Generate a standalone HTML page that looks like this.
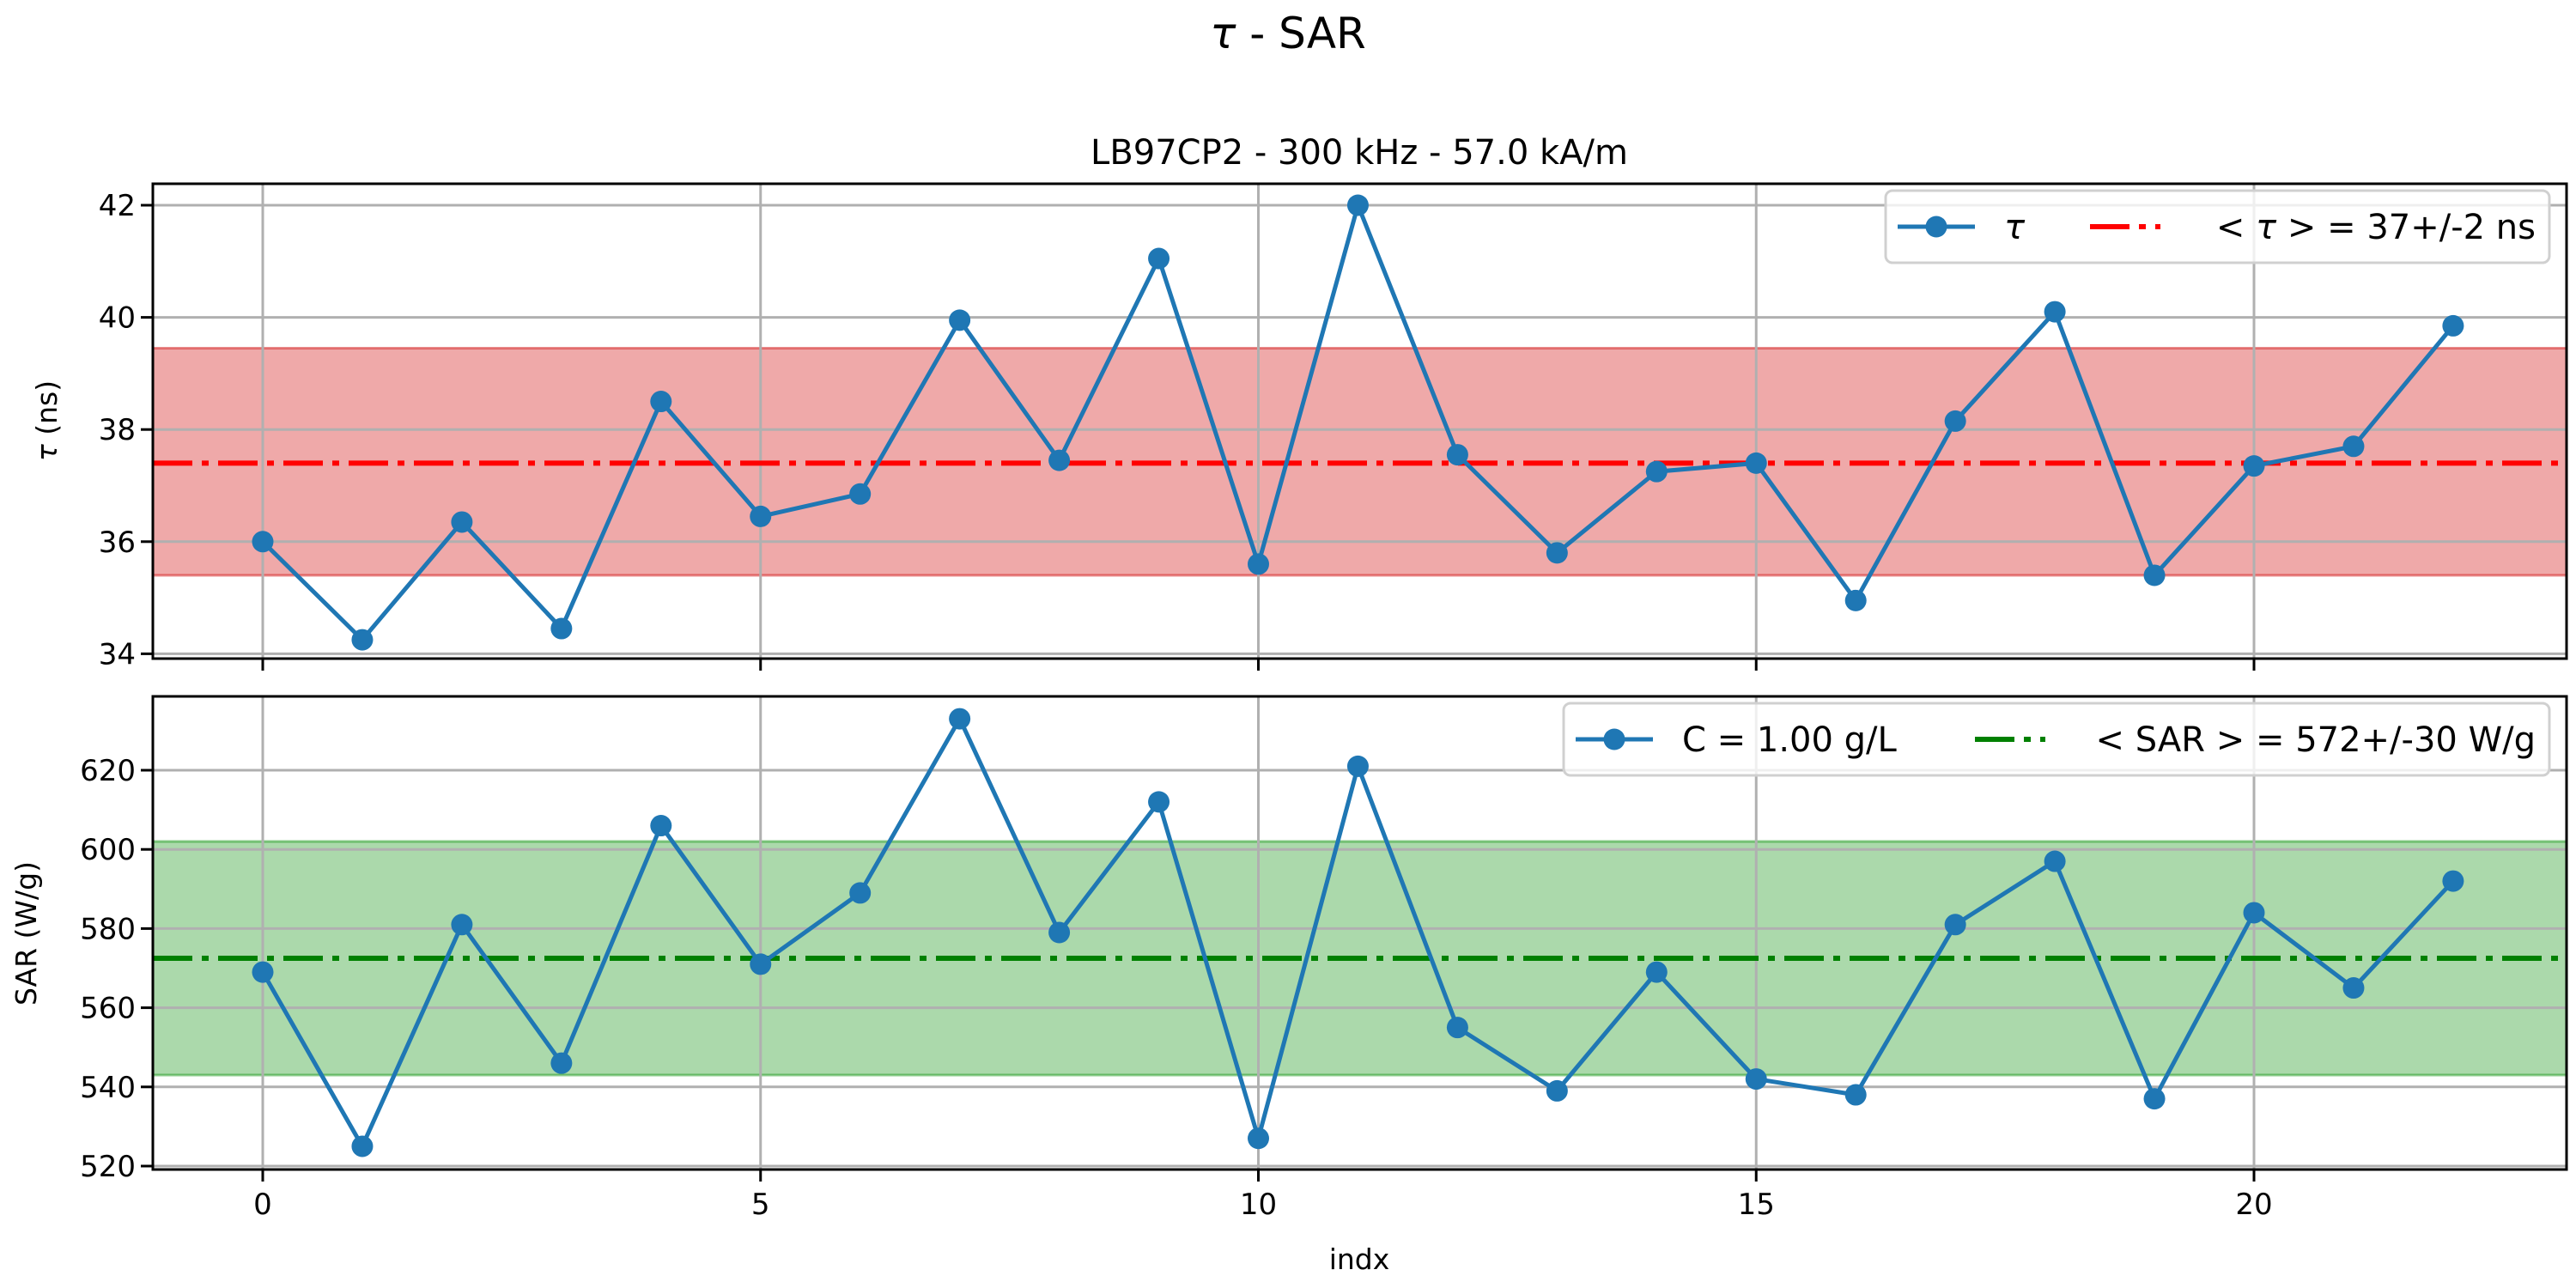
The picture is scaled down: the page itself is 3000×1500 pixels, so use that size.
<!DOCTYPE html>
<html><head><meta charset="utf-8"><style>
html,body{margin:0;padding:0;background:#fff;}
svg{display:block;font-family:"DejaVu Sans","Liberation Sans",sans-serif;}
</style></head><body>
<svg id="fig" width="3000" height="1500" viewBox="0 0 3000 1500" xmlns="http://www.w3.org/2000/svg">
<text x="1500" y="56" font-size="50" text-anchor="middle"><tspan font-style="italic">τ</tspan> - SAR</text>
<text x="1583" y="191" font-size="40" text-anchor="middle">LB97CP2 - 300 kHz - 57.0 kA/m</text>
<g id="top"></g>
<g id="bot"></g>
<text x="1583" y="1478" font-size="33" text-anchor="middle">indx</text>
<text transform="translate(66,490) rotate(-90)" font-size="33" text-anchor="middle"><tspan font-style="italic">τ</tspan> (ns)</text>
<text transform="translate(42,1087) rotate(-90)" font-size="33" text-anchor="middle">SAR (W/g)</text>
</svg>
<script>
const indices = [0,1,2,3,4,5,6,7,8,9,10,11,12,13,14,15,16,17,18,19,20,21,22];
const tauValues = [36.0,34.25,36.35,34.45,38.5,36.45,36.85,39.95,37.45,41.05,35.6,42.0,37.55,35.8,37.25,37.4,34.95,38.15,40.1,35.4,37.35,37.7,39.85];
const sarValues = [569,525,581,546,606,571,589,633,579,612,527,621,555,539,569,542,538,581,597,537,584,565,592];
const tauStats = [37.4, 35.4, 39.45];
const sarStats = [572.5, 543, 602];
const xTicks = [0,5,10,15,20];
const tauTicks = [34,36,38,40,42];
const sarTicks = [520,540,560,580,600,620];

const NS = "http://www.w3.org/2000/svg";
const L = 178, R = 2989;
const xs = v => 306 + v * 115.95;
function mk(parent, tag, attrs) {
  const e = document.createElementNS(NS, tag);
  for (const k in attrs) e.setAttribute(k, attrs[k]);
  parent.appendChild(e); return e;
}
function panel(g, top, bot, ys, ticks, vals, stats, bandFill, bandStroke, meanColor, legendX, legendW, label1, label2, showXLabels) {
  const clipId = g.id + "clip";
  const cp = mk(g, "clipPath", {id: clipId});
  mk(cp, "rect", {x: L, y: top, width: R - L, height: bot - top});
  const band = mk(g, "rect", {x: L, y: ys(stats[2]), width: R - L, height: ys(stats[1]) - ys(stats[2]), fill: bandFill, stroke: bandStroke, "stroke-width": 3});
  
  
  xTicks.forEach(t => {
    const l = mk(g, "line", {x1: xs(t), x2: xs(t), y1: top, y2: bot, stroke: "#b0b0b0", "stroke-width": 3});
    
    
  });
  ticks.forEach(t => {
    const l = mk(g, "line", {x1: L, x2: R, y1: ys(t), y2: ys(t), stroke: "#b0b0b0", "stroke-width": 3});
    
    
    const tk = mk(g, "line", {x1: L - 14, x2: L, y1: ys(t), y2: ys(t), stroke: "#000", "stroke-width": 3});
    
    
    const tx = mk(g, "text", {x: L - 20, y: ys(t) + 12, "font-size": 34, "text-anchor": "end"});
    tx.textContent = t;
    
    
  });
  const mean = mk(g, "line", {x1: L, x2: R, y1: ys(stats[0]), y2: ys(stats[0]), stroke: meanColor, "stroke-width": 6, "stroke-dasharray": "46 11 8 11"});
  
  
  const pts = vals.map((v, i) => xs(indices[i]).toFixed(1) + "," + ys(v).toFixed(1)).join(" ");
  const pl = mk(g, "polyline", {points: pts, fill: "none", stroke: "#1f77b4", "stroke-width": 5, "clip-path": "url(#" + clipId + ")"});
  
  
  vals.forEach((v, i) => {
    const c = mk(g, "circle", {cx: xs(indices[i]), cy: ys(v), r: 12.5, fill: "#1f77b4"});
    
    
  });
  xTicks.forEach(t => {
    const tk = mk(g, "line", {x1: xs(t), x2: xs(t), y1: bot, y2: bot + 14, stroke: "#000", "stroke-width": 3});
    
    
    if (showXLabels) {
      const tx = mk(g, "text", {x: xs(t), y: bot + 52, "font-size": 34, "text-anchor": "middle"});
      tx.textContent = t;
      
      
    }
  });
  const fr = mk(g, "rect", {x: L, y: top, width: R - L, height: bot - top, fill: "none", stroke: "#000", "stroke-width": 3});
  
  
  const ly = top + 8, lh = 84, lw = legendW;
  const lg = mk(g, "g", {});
  
  
  mk(lg, "rect", {x: legendX, y: ly, width: lw, height: lh, rx: 8, fill: "rgba(255,255,255,0.8)", stroke: "#d0d0d0", "stroke-width": 3});
  const cy = ly + lh / 2;
  mk(lg, "line", {x1: legendX + 14, x2: legendX + 104, y1: cy, y2: cy, stroke: "#1f77b4", "stroke-width": 5});
  mk(lg, "circle", {cx: legendX + 59, cy: cy, r: 12.5, fill: "#1f77b4"});
  const t1 = mk(lg, "text", {x: legendX + 138, y: cy + 14, "font-size": 40});
  t1.innerHTML = label1[0];
  
  
  mk(lg, "line", {x1: label2[1], x2: label2[1] + 82, y1: cy, y2: cy, stroke: meanColor, "stroke-width": 6, "stroke-dasharray": "46 11 8 11"});
  const t2 = mk(lg, "text", {x: legendX + lw - 16, y: cy + 14, "font-size": 40, "text-anchor": "end"});
  t2.innerHTML = label2[0];
  
  
}
const tauY = v => 239 + (42 - v) * 65.3;
const sarY = v => 897 + (620 - v) * 4.61;
panel(document.getElementById("top"), 214, 767, tauY, tauTicks, tauValues, tauStats,
  "rgba(214,39,40,0.4)", "rgba(214,39,40,0.55)", "#ff0000", 2196, 773,
  ['<tspan font-style="italic">τ</tspan>'], ['&lt; <tspan font-style="italic">τ</tspan> &gt;  = 37+/-2 ns', 2434], false);
panel(document.getElementById("bot"), 811, 1362, sarY, sarTicks, sarValues, sarStats,
  "rgba(44,160,44,0.4)", "rgba(44,160,44,0.55)", "#008000", 1821, 1148,
  ['C = 1.00 g/L'], ['&lt; SAR &gt;  = 572+/-30 W/g', 2300], true);
</script>
</body></html>
